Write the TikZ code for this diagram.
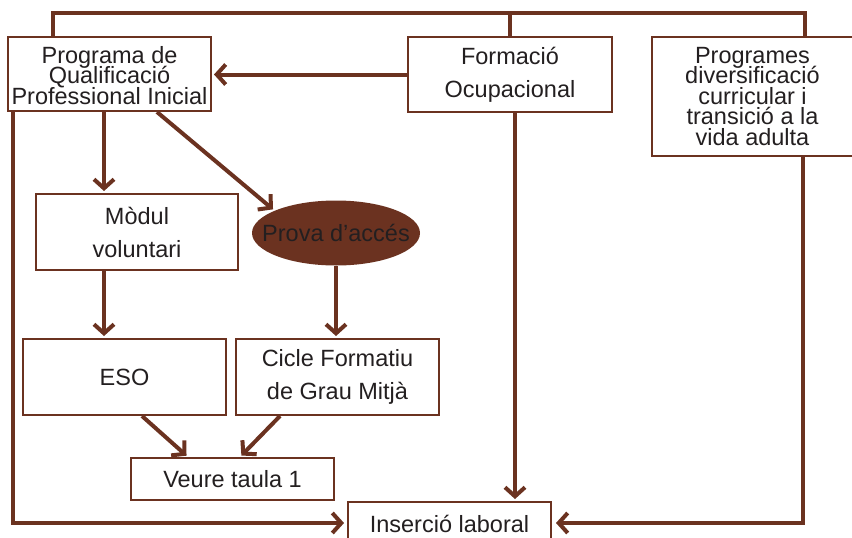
\documentclass[tikz,border=0pt]{standalone}
\usepackage{fontspec}
\setmainfont{Liberation Sans}
\usetikzlibrary{arrows.meta,shapes.geometric}
\definecolor{brn}{RGB}{107,50,32}
\definecolor{txt}{RGB}{35,31,32}
\newcommand\mytightls{\lineskiplimit=-50pt\relax}
\begin{document}
\begin{tikzpicture}[x=1pt,y=-1pt,
  box/.style={draw=brn, line width=2pt, fill=white, text=txt, align=center, inner sep=0pt,
              font=\fontsize{23.5}{20.5}\selectfont\mytightls},
  loose/.style={font=\fontsize{23.5}{33}\selectfont},
  conn/.style={draw=brn, line width=4pt},
  arr/.style={conn, shorten >=2pt, -{Straight Barb[length=9pt,width=20pt]}},
]
\useasboundingbox (0,0) rectangle (852,538);
% nodes
\node[box, minimum width=203pt, minimum height=74pt] (pq) at (109.5,74) {\rule{0pt}{20pt}Programa de\\Qualificació\\Professional Inicial};
\node[box, loose, minimum width=204pt, minimum height=75pt] (fo) at (510,74.5) {Formació\\Ocupacional};
\node[box, minimum width=201pt, minimum height=119pt] (pr) at (752.5,96.5) {Programes\\diversificació\\curricular i\\transició a la\\vida adulta};
\node[box, loose, minimum width=202pt, minimum height=76pt] (mo) at (137,232) {Mòdul\\voluntari};
\node[ellipse, fill=brn, text=txt, inner sep=0pt, minimum width=168pt, minimum height=65pt,
      font=\fontsize{23.5}{20}\selectfont] (pa) at (336,233) {\makebox[0pt]{Prova d’accés}};
\node[box, loose, minimum width=203pt, minimum height=76pt] (es) at (124.5,377) {ESO};
\node[box, loose, minimum width=203pt, minimum height=76pt] (ci) at (337.5,377) {Cicle Formatiu\\de Grau Mitjà};
\node[box, minimum width=203pt, minimum height=42pt] (ve) at (232.5,479) {Veure taula 1};
\node[box, minimum width=203pt, minimum height=43pt] (in) at (449.5,523.5) {Inserció laboral};
% helper coordinates
\coordinate (tl) at (53,13);
\coordinate (tr) at (805,13);
\coordinate (bl) at (13,523);
\coordinate (br) at (803,523);
\coordinate (xa) at (104,0);
\coordinate (xd) at (157,0);
\coordinate (xe1) at (142,0);
\coordinate (xe2) at (188,0);
\coordinate (xc1) at (280,0);
\coordinate (xc2) at (240,0);
\coordinate (xf) at (515,0);
% connectors
\draw[conn] (pq.north -| tl) -- (tl) -- (tr) -- (pr.north -| tr);
\draw[conn] (fo.north) -- (fo.north |- tl);
\draw[arr] (fo.west) -- (fo.west -| pq.east);
\draw[arr, shorten >=3pt] (pq.south -| bl) -- (bl) -- (in.west |- bl);
\draw[arr] (pq.south -| xd) -- (pa.160);
\draw[arr] (pq.south -| xa) -- (mo.north -| xa);
\draw[arr] (mo.south -| xa) -- (es.north -| xa);
\draw[arr] (pa.south) -- (pa.south |- ci.north);
\draw[arr] (es.south -| xe1) -- (ve.north -| xe2);
\draw[arr] (ci.south -| xc1) -- (ve.north -| xc2);
\draw[arr] (fo.south -| xf) -- (in.north -| xf);
\draw[arr, shorten >=4pt] (pr.south -| br) -- (br) -- (in.east |- br);
\end{tikzpicture}
\end{document}
